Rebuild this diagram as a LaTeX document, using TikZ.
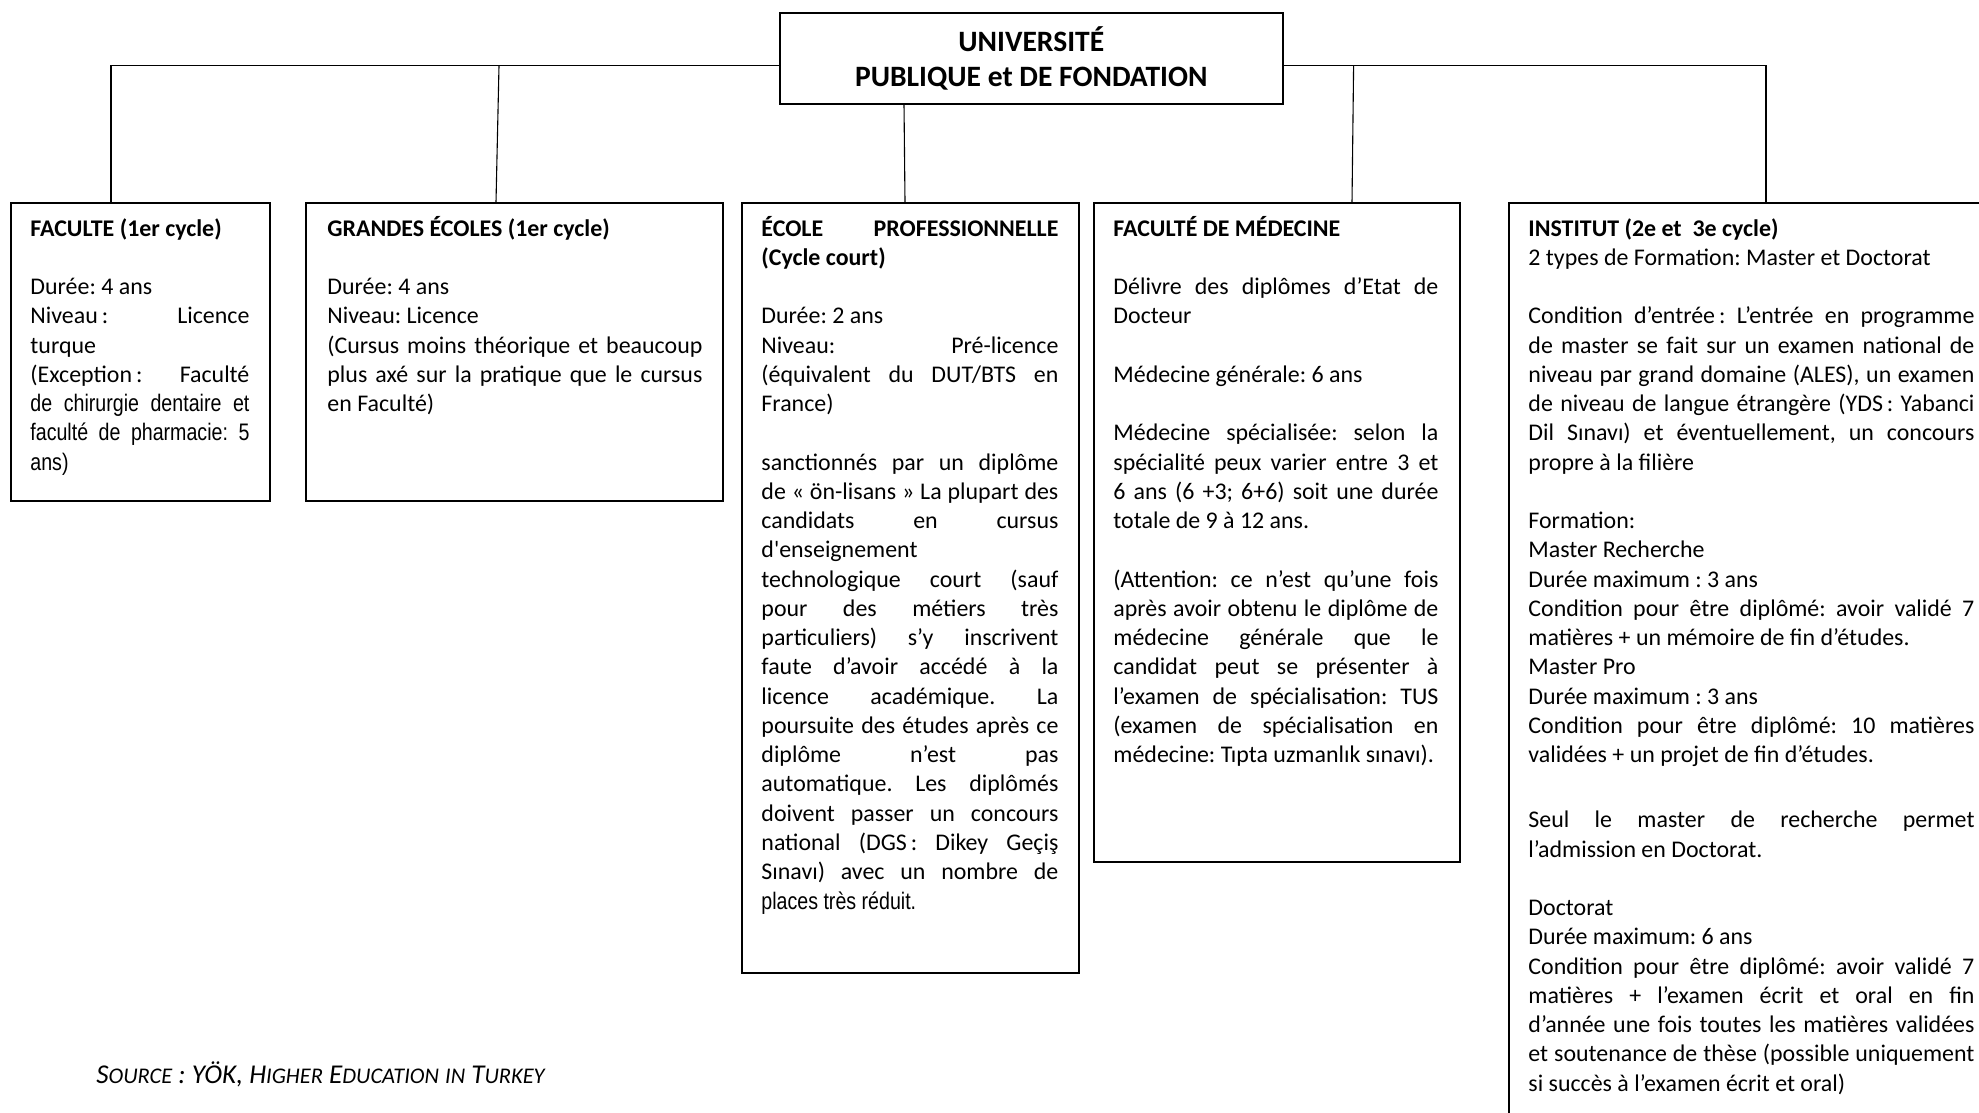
\documentclass[tikz,border=0pt]{standalone}
\usepackage{fontspec}
\setmainfont{Carlito}
\newfontfamily\narrowfont[FakeStretch=0.82]{Liberation Sans}
\usetikzlibrary{calc}

\newlength\px
\setlength\px{0.46pt}
%% back to the font's own word spaces (align=left fixes them)
\newcommand\wordsp{\spaceskip=0pt\xspaceskip=0pt\relax}
%% one justified line, spaces stretched to the full width
\newcommand\jl[1]{{\wordsp\makebox[\hsize][s]{#1}}}
\newcommand\fsc[1]{{\fontsize{10.3pt}{12pt}\selectfont #1}}

\tikzset{
  boxfrm/.style={draw, line width=1.6\px, inner sep=0pt, anchor=north west},
  txt/.style={anchor=base west, inner sep=0pt, align=left,
              font=\fontsize{11pt}{13.46pt}\selectfont\frenchspacing,
              execute at begin node=\wordsp},
  branch/.style={line width=1.1\px}
}

\begin{document}
\begin{tikzpicture}[x=\px, y=-\px]
  \useasboundingbox (0,0) rectangle (1979,1112);
  \clip (0,0) rectangle (1979,1112);

  %% top of the tree
  \node[boxfrm, minimum width=503\px, minimum height=91\px, align=center,
        font=\bfseries\fontsize{13.6pt}{16.2pt}\selectfont] (univ) at (779,12)
        {UNIVERSITÉ\\PUBLIQUE et DE FONDATION};

  %% the five boxes (the last one runs off the page)
  \node[boxfrm, minimum width=259\px, minimum height=298\px] (fac) at (10,202) {};
  \node[boxfrm, minimum width=417\px, minimum height=298\px] (ecoles) at (305,202) {};
  \node[boxfrm, minimum width=337\px, minimum height=770\px] (pro) at (741,202) {};
  \node[boxfrm, minimum width=366\px, minimum height=659\px] (med) at (1093,202) {};
  \node[boxfrm, minimum width=560\px, minimum height=1000\px] (inst) at (1508,202) {};

  \node[txt, text width=219\px] (facTxt) at ($(fac.north west)+(20,34)$) {%
    \textbf{FACULTE (1er cycle)}\\[\baselineskip]
    Durée: 4 ans\\
    \jl{Niveau\,: Licence}\\
    turque\\
    \jl{(Exception\,: Faculté}\\
    {\narrowfont\jl{de chirurgie dentaire et}}\\
    {\narrowfont\jl{faculté de pharmacie: 5}}\\
    {\narrowfont ans)}};

  \node[txt, text width=375\px] (ecolesTxt) at ($(ecoles.north west)+(22,34)$) {%
    \textbf{GRANDES ÉCOLES (1er cycle)}\\[\baselineskip]
    Durée: 4 ans\\
    Niveau: Licence\\
    \jl{(Cursus moins théorique et beaucoup}\\
    \jl{plus axé sur la pratique que le cursus}\\
    en Faculté)};

  \node[txt, text width=297\px] (proTxt) at ($(pro.north west)+(20,34)$) {%
    \textbf{\jl{ÉCOLE PROFESSIONNELLE}}\\
    \textbf{(Cycle court)}\\[\baselineskip]
    Durée: 2 ans\\
    \jl{Niveau: Pré-licence}\\
    \jl{(équivalent du DUT/BTS en}\\
    France)\\[\baselineskip]
    \jl{sanctionnés par un diplôme}\\
    \jl{de « ön-lisans » La plupart des}\\
    \jl{candidats en cursus}\\
    d\XeTeXglyph\XeTeXcharglyph"27 enseignement\\
    \jl{technologique court (sauf}\\
    \jl{pour des métiers très}\\
    \jl{particuliers) s’y inscrivent}\\
    \jl{faute d’avoir accédé à la}\\
    \jl{licence académique. La}\\
    \jl{poursuite des études après ce}\\
    \jl{diplôme n’est pas}\\
    \jl{automatique. Les diplômés}\\
    \jl{doivent passer un concours}\\
    \jl{national (DGS\,: Dikey Geçiş}\\
    \jl{Sınavı) avec un nombre de}\\
    {\narrowfont places très réduit.}};

  \node[txt, text width=325\px] (medTxt) at ($(med.north west)+(20,34)$) {%
    \textbf{FACULTÉ DE MÉDECINE}\\[\baselineskip]
    \jl{Délivre des diplômes d’Etat de}\\
    Docteur\\[\baselineskip]
    Médecine générale: 6 ans\\[\baselineskip]
    \jl{Médecine spécialisée: selon la}\\
    \jl{spécialité peux varier entre 3 et}\\
    \jl{6 ans (6 +3; 6+6) soit une durée}\\
    totale de 9 à 12 ans.\\[\baselineskip]
    \jl{(Attention: ce n’est qu’une fois}\\
    \jl{après avoir obtenu le diplôme de}\\
    \jl{médecine générale que le}\\
    \jl{candidat peut se présenter à}\\
    \jl{l’examen de spécialisation: TUS}\\
    \jl{(examen de spécialisation en}\\
    \mbox{médecine: Tıpta uzmanlık sınavı).}};

  \node[txt, text width=446\px] (instTxt) at ($(inst.north west)+(20,34)$) {%
    \textbf{INSTITUT (2e et \ 3e cycle)}\\
    2 types de Formation: Master et Doctorat\\[\baselineskip]
    \jl{Condition d’entrée\,: L’entrée en programme}\\
    \jl{de master se fait sur un examen national de}\\
    \jl{niveau par grand domaine (ALES), un examen}\\
    \jl{de niveau de langue étrangère (YDS\,: Yabanci}\\
    \jl{Dil Sınavı) et éventuellement, un concours}\\
    propre à la filière\\[\baselineskip]
    Formation:\\
    Master Recherche\\
    Durée maximum : 3 ans\\
    \jl{Condition pour être diplômé: avoir validé 7}\\
    matières + un mémoire de fin d’études.\\
    Master Pro\\
    Durée maximum : 3 ans\\
    \jl{Condition pour être diplômé: 10 matières}\\
    validées + un projet de fin d’études.\\[16.5pt]
    \jl{Seul le master de recherche permet}\\
    l’admission en Doctorat.\\[\baselineskip]
    Doctorat\\
    Durée maximum: 6 ans\\
    \jl{Condition pour être diplômé: avoir validé 7}\\
    \jl{matières + l’examen écrit et oral en fin}\\
    \jl{d’année une fois toutes les matières validées}\\
    \jl{et soutenance de thèse (possible uniquement}\\
    si succès à l’examen écrit et oral)};

  %% connectors
  \coordinate (busL) at ($(univ.north west)!0.58!(univ.south west)$);
  \coordinate (busR) at ($(univ.north east)!0.58!(univ.south east)$);
  \path (busL) -- ++(-280,0) coordinate (j2);
  \path (busR) -- ++(70,0) coordinate (j4);
  \draw[branch] (busL) -| ($(fac.north west)+(101,0)$);
  \draw[branch] (j2) -- ($(ecoles.north west)+(191,0)$);
  \draw[branch] ($(univ.south west)+(125,0)$) -- ($(pro.north west)+(164,0)$);
  \draw[branch] (j4) -- ($(med.north west)+(259,0)$);
  \draw[branch] (busR) -| ($(inst.north west)+(258,0)$);

  \node[anchor=base west, inner sep=0pt, font=\itshape\fontsize{12.5pt}{14pt}\selectfont] (src) at (96,1083)
    {S\fsc{OURCE} : YÖK, H\fsc{IGHER} E\fsc{DUCATION} \fsc{IN} T\fsc{URKEY}};
\end{tikzpicture}
\end{document}
